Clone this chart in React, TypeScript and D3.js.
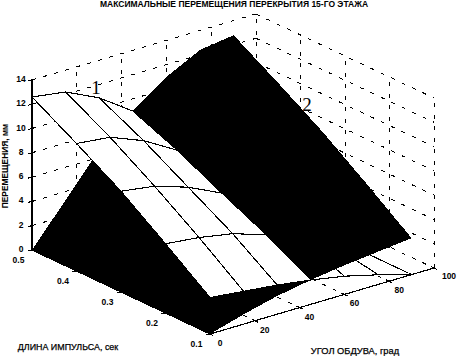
import React, { useEffect, useRef } from 'react'
import * as d3 from 'd3'

const titleText = 'МАКСИМАЛЬНЫЕ ПЕРЕМЕЩЕНИЯ ПЕРЕКРЫТИЯ 15-ГО ЭТАЖА'
const zLabel = 'ПЕРЕМЕЩЕНИЯ, мм'
const durationLabel = 'ДЛИНА ИМПУЛЬСА, сек'
const angleLabel = 'УГОЛ ОБДУВА, град'

// measured grid, durations go from the back of the box to the front
const angles = [0, 15, 30, 45, 60, 75, 90]
const durations = [0.5, 0.4, 0.3, 0.2, 0.1]

// surface 1 - white one, peak at zero angle
const surface1 = [
  [12.6, 12.2, 10.9, 9.0, 6.6, 3.4, 0],
  [10.5, 10.2, 9.1, 7.5, 5.5, 2.9, 0],
  [8.3, 7.9, 7.0, 5.7, 4.2, 2.2, 0],
  [5.7, 5.4, 4.9, 4.0, 2.9, 1.5, 0],
  [3.0, 2.7, 2.4, 2.0, 1.5, 0.8, 0],
]
// surface 2 - black one, peak at 90 degrees
const surface2 = [
  [0, 3.3, 6.6, 9.0, 11.0, 12.4, 12.8],
  [0, 2.9, 5.5, 7.5, 9.1, 10.2, 10.6],
  [0, 2.2, 4.2, 5.7, 7.0, 7.9, 8.3],
  [0, 1.5, 2.9, 4.0, 4.9, 5.4, 5.7],
  [0, 0.8, 1.5, 2.0, 2.4, 2.7, 3.0],
]

const angleTicks = [0, 20, 40, 60, 80, 100]
const durationTicks = [0.1, 0.2, 0.3, 0.4, 0.5]
const zTicks = [0, 2, 4, 6, 8, 10, 12, 14]

const width = 457
const height = 356

// oblique box: each axis adds its own screen offset
const angleX = d3.scaleLinear().domain([0, 100]).range([0, 224])
const angleY = d3.scaleLinear().domain([0, 100]).range([0, -66])
const durX = d3.scaleLinear().domain([0.1, 0.5]).range([210, 32])
const durY = d3.scaleLinear().domain([0.1, 0.5]).range([334, 250])
const zY = d3.scaleLinear().domain([0, 14]).range([0, -170])

type P = [number, number]
const project = (a: number, t: number, z: number): P => [
  angleX(a) + durX(t),
  angleY(a) + durY(t) + zY(z),
]

type V = { a: number; t: number; z1: number; z2: number }
const mix = (p: V, q: V, k: number): V => ({
  a: p.a + (q.a - p.a) * k,
  t: p.t + (q.t - p.t) * k,
  z1: p.z1 + (q.z1 - p.z1) * k,
  z2: p.z2 + (q.z2 - p.z2) * k,
})

// keep the part of a polygon on one side of the line where surfaces cross
function clipPoly(poly: V[], side: number) {
  const out: V[] = []
  poly.forEach((p, i) => {
    const q = poly[(i + 1) % poly.length]
    const fp = (p.z1 - p.z2) * side
    const fq = (q.z1 - q.z2) * side
    if (fp >= 0) out.push(p)
    if ((fp > 0 && fq < 0) || (fp < 0 && fq > 0)) out.push(mix(p, q, fp / (fp - fq)))
  })
  return out
}

function clipSeg(p: V, q: V, side: number): V[] | null {
  const fp = (p.z1 - p.z2) * side
  const fq = (q.z1 - q.z2) * side
  if (fp < 0 && fq < 0) return null
  if (fp >= 0 && fq >= 0) return [p, q]
  const m = mix(p, q, fp / (fp - fq))
  return fp >= 0 ? [p, m] : [m, q]
}

export default function App() {
  const ref = useRef<SVGSVGElement>(null)

  useEffect(() => {
    const svg = d3.select(ref.current)
    svg.selectAll('*').remove()
    const line = d3.line()
    const crisp = svg.append('g').attr('shape-rendering', 'crispEdges')

    const wallLine = (from: number[], to: number[]) =>
      crisp.append('path')
        .attr('d', line([project(from[0], from[1], from[2]), project(to[0], to[1], to[2])]))
        .attr('fill', 'none')
        .attr('stroke', '#000')
        .attr('stroke-width', 1)
        .attr('stroke-dasharray', '4 7.5')

    // back walls and floor, all dashed
    zTicks.forEach(z => {
      wallLine([0, 0.5, z], [100, 0.5, z])
      wallLine([100, 0.5, z], [100, 0.1, z])
    })
    angleTicks.forEach(a => {
      wallLine([a, 0.5, 0], [a, 0.5, 14])
      wallLine([a, 0.5, 0], [a, 0.1, 0])
    })
    durationTicks.forEach(t => {
      wallLine([100, t, 0], [100, t, 14])
      wallLine([0, t, 0], [100, t, 0])
    })

    const fillPoly = (poly: V[], key: 'z1' | 'z2') => {
      if (poly.length < 3) return
      crisp.append('path')
        .attr('d', line(poly.map(v => project(v.a, v.t, v[key]))) + 'Z')
        .attr('fill', key === 'z1' ? '#fff' : '#000')
    }
    const meshEdges = (edges: V[][], side: number) => {
      edges.forEach(e => {
        const seg = clipSeg(e[0], e[1], side)
        if (!seg) return
        crisp.append('path')
          .attr('d', line(seg.map(v => project(v.a, v.t, v.z1))))
          .attr('fill', 'none')
          .attr('stroke', '#000')
          .attr('stroke-width', 1.1)
      })
    }

    // back to front over the grid, the lower surface first in every cell
    const vert = (i: number, j: number): V => ({
      a: angles[j],
      t: durations[i],
      z1: surface1[i][j],
      z2: surface2[i][j],
    })
    durations.slice(1).forEach((_, r) => {
      const iBack = r
      const iFront = r + 1
      for (let j = angles.length - 2; j >= 0; j--) {
        const bl = vert(iBack, j)
        const br = vert(iBack, j + 1)
        const fl = vert(iFront, j)
        const fr = vert(iFront, j + 1)
        const tris = [
          { poly: [br, bl, fr], edges: [[br, bl], [br, fr]] },
          { poly: [fl, fr, bl], edges: [[fl, fr], [fl, bl]] },
        ]
        tris.forEach(tri => {
          const under = clipPoly(tri.poly, -1)
          fillPoly(under, 'z1')
          meshEdges(tri.edges, -1)
          fillPoly(under, 'z2')
          const over = clipPoly(tri.poly, 1)
          fillPoly(over, 'z2')
          fillPoly(over, 'z1')
          meshEdges(tri.edges, 1)
        })
      }
    })

    // solid axes and ticks
    const solid = (a: P, b: P) =>
      crisp.append('path')
        .attr('d', line([a, b]))
        .attr('fill', 'none')
        .attr('stroke', '#000')
        .attr('stroke-width', 1.2)
    solid(project(0, 0.5, 0), project(0, 0.5, 14))
    solid(project(0, 0.5, 0), project(0, 0.1, 0))
    solid(project(0, 0.1, 0), project(100, 0.1, 0))
    zTicks.forEach(z => {
      const p = project(0, 0.5, z)
      solid([p[0] - 4, p[1] + 1], [p[0] + 3, p[1] - 1])
    })
    durationTicks.forEach(t => {
      const p = project(0, t, 0)
      solid([p[0] - 4, p[1] + 1], [p[0] + 3, p[1] - 1])
    })
    angleTicks.forEach(a => {
      const p = project(a, 0.1, 0)
      solid([p[0] - 3, p[1] - 1.5], [p[0] + 3, p[1] + 1.5])
    })

    const label = (x: number, y: number, s: string, size = 8.5, weight = 'bold') =>
      svg.append('text')
        .attr('x', x)
        .attr('y', y)
        .attr('text-anchor', 'middle')
        .attr('dominant-baseline', 'central')
        .attr('font-family', '"Liberation Sans", Arial, sans-serif')
        .attr('font-size', size)
        .attr('font-weight', weight)
        .attr('fill', '#000')
        .text(s)

    label(234, 4, titleText, 8.5)
    zTicks.forEach(z => label(21, project(0, 0.5, z)[1] - 1, String(z)))
    durationTicks.forEach(t => {
      const p = project(0, t, 0)
      label(p[0] - 13.5, p[1] + 9.5, String(t))
    })
    angleTicks.forEach(a => {
      const p = project(a, 0.1, 0)
      label(p[0] + (a === 100 ? 15 : 10), p[1] + (a === 100 ? 8 : 9), String(a))
    })
    label(68, 347, durationLabel, 8.9, 'normal').attr('stroke', '#000').attr('stroke-width', 0.25)
    label(355, 351, angleLabel, 9.3, 'normal').attr('stroke', '#000').attr('stroke-width', 0.25)
    label(5, 166, zLabel, 8.4).attr('transform', 'rotate(-90 5 166)')

    const bigLabel = (x: number, y: number, s: string) =>
      svg.append('text')
        .attr('x', x)
        .attr('y', y)
        .attr('text-anchor', 'middle')
        .attr('font-family', '"Liberation Serif", serif')
        .attr('font-size', 19)
        .attr('fill', '#000')
        .text(s)
    bigLabel(96, 94, '1')
    bigLabel(307, 111, '2')
  }, [])

  return (
    <svg
      ref={ref}
      width={width}
      height={height}
      style={{ position: 'absolute', left: 0, top: 0, background: '#fff' }}
    />
  )
}
